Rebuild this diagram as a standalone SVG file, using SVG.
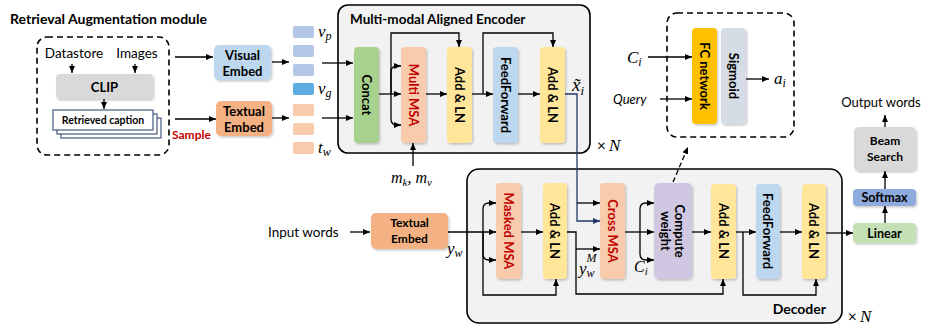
<svg xmlns="http://www.w3.org/2000/svg" width="927" height="329" viewBox="0 0 927 329">
<style>
.t{font-family:Lato,"Liberation Sans",sans-serif;fill:#000}
.b{font-weight:bold}
.m{font-family:"Liberation Serif","DejaVu Serif",serif;font-style:italic;fill:#000}
.ln{fill:none;stroke:#000;stroke-width:1.3}
.nv{fill:none;stroke:#203864;stroke-width:1.3}
.cont{fill:#f2f2f2;stroke:#000;stroke-width:1.6}
.dash{fill:none;stroke:#000;stroke-width:1.6;stroke-dasharray:6 4}
.blk{stroke:none;filter:url(#sh)}
.rt{font-family:Lato,"Liberation Sans",sans-serif;font-weight:bold;font-size:13px;text-anchor:middle;dominant-baseline:central;fill:#000}
.red{fill:#c00000}
</style>
<defs>
<filter id="sh" x="-30%" y="-30%" width="160%" height="160%">
<feDropShadow dx="1.2" dy="1.5" stdDeviation="1" flood-color="#000" flood-opacity="0.22"/>
</filter>
<marker id="a" markerUnits="userSpaceOnUse" markerWidth="7" markerHeight="7" refX="7" refY="3.5" orient="auto">
<path d="M0,0.5 L7,3.5 L0,6.5 z" fill="#000"/>
</marker>
<marker id="an" markerUnits="userSpaceOnUse" markerWidth="7" markerHeight="7" refX="7" refY="3.5" orient="auto">
<path d="M0,0.5 L7,3.5 L0,6.5 z" fill="#203864"/>
</marker>
</defs>

<g id="retrieval-module">
<text class="t b" x="10" y="24" font-size="14">Retrieval Augmentation module</text>
<rect class="dash" x="37" y="37" width="132" height="118" rx="10"/>
</g>
<g id="encoder">
<rect class="cont" x="338" y="5" width="252" height="148" rx="10"/>
<text class="t b" x="350" y="24" font-size="13.5">Multi-modal Aligned Encoder</text>
<text class="t" x="597" y="151" font-size="15">×</text><text class="m" x="609" y="151" font-size="17">N</text>
</g>
<g id="decoder">
<rect class="cont" x="467" y="169" width="375" height="154" rx="12"/>
<text class="t b" x="826" y="314" font-size="14" text-anchor="end">Decoder</text>
<text class="t" x="848" y="322" font-size="15">×</text><text class="m" x="860" y="322" font-size="17">N</text>
</g>
<g id="gate-module">
<rect class="dash" x="667" y="13" width="127" height="124" rx="10"/>
</g>

<g id="connectors">
<path class="ln" d="M72,64 V73" marker-end="url(#a)"/>
<path class="ln" d="M135,64 V73" marker-end="url(#a)"/>
<path class="ln" d="M104,99 V109" marker-end="url(#a)"/>
<path class="ln" d="M175,57 H213" marker-end="url(#a)"/>
<path class="ln" d="M175,119 H216" marker-end="url(#a)"/>
<path class="ln" d="M272,62 H289" marker-end="url(#a)"/>
<path class="ln" d="M272,118 H289" marker-end="url(#a)"/>
<path class="ln" d="M322,63 H353" marker-end="url(#a)"/>
<path class="ln" d="M322,118 H353" marker-end="url(#a)"/>
<path class="ln" d="M379,94 H401" marker-end="url(#a)"/>
<path class="ln" d="M391,94 V33 H459 V47" marker-end="url(#a)"/>
<path class="ln" d="M391,94 V72 Q391,66 397,66 H401" marker-end="url(#a)"/>
<path class="ln" d="M391,94 V119 Q391,125 397,125 H401" marker-end="url(#a)"/>
<path class="ln" d="M426,94 H447" marker-end="url(#a)"/>
<path class="ln" d="M472,94 H493" marker-end="url(#a)"/>
<path class="ln" d="M483,94 V33 H553 V47" marker-end="url(#a)"/>
<path class="ln" d="M518,94 H540" marker-end="url(#a)"/>
<path class="ln" d="M413,166 V143" marker-end="url(#a)"/>
<path class="nv" d="M565,94 H577 V221 H600" marker-end="url(#an)"/>
<path class="ln" d="M577,203 H600" marker-end="url(#a)"/>
<path class="ln" d="M648,57 H692" marker-end="url(#a)"/>
<path class="ln" d="M660,99 H692" marker-end="url(#a)"/>
<path class="ln" d="M746,79 H769" marker-end="url(#a)"/>
<path class="ln" d="M673,182 L688,147" stroke-dasharray="5 3" marker-end="url(#a)"/>
<path class="ln" d="M350,232 H370" marker-end="url(#a)"/>
<path class="ln" d="M448,232 H496" marker-end="url(#a)"/>
<path class="ln" d="M483,232 V209 Q483,203 489,203 H496" marker-end="url(#a)"/>
<path class="ln" d="M483,232 V254 Q483,260 489,260 H496" marker-end="url(#a)"/>
<path class="ln" d="M483,232 V295 H556 V279" marker-end="url(#a)"/>
<path class="ln" d="M521,232 H543" marker-end="url(#a)"/>
<path class="ln" d="M567,232 H576 V294 H723 V279" marker-end="url(#a)"/>
<path class="ln" d="M576,249 H600" marker-end="url(#a)"/>
<path class="ln" d="M625,232 H654" marker-end="url(#a)"/>
<path class="ln" d="M640,232 V209 Q640,203 646,203 H654" marker-end="url(#a)"/>
<path class="ln" d="M640,232 V254 Q640,260 646,260 H654" marker-end="url(#a)"/>
<path class="ln" d="M692,232 H711" marker-end="url(#a)"/>
<path class="ln" d="M736,232 H756" marker-end="url(#a)"/>
<path class="ln" d="M743,232 V295 H816 V279" marker-end="url(#a)"/>
<path class="ln" d="M780,232 H802" marker-end="url(#a)"/>
<path class="ln" d="M826,233 H853" marker-end="url(#a)"/>
<path class="ln" d="M885,223 V206" marker-end="url(#a)"/>
<path class="ln" d="M885,189 V171" marker-end="url(#a)"/>
<path class="ln" d="M885,127 V115" marker-end="url(#a)"/>
</g>

<g id="datastore"><text class="t" x="74" y="58" font-size="13.5" text-anchor="middle">Datastore</text></g>
<g id="images"><text class="t" x="137" y="58" font-size="13.5" text-anchor="middle">Images</text></g>
<g id="clip">
<rect class="blk" x="56" y="74" width="97" height="25" rx="4" fill="#d9d9d9"/>
<text class="t b" x="104.5" y="91.5" font-size="13" text-anchor="middle">CLIP</text>
</g>
<g id="retrieved-caption">
<rect x="61" y="118" width="100" height="20" fill="#fff" stroke="#203864" stroke-width="1"/>
<rect x="57" y="114" width="100" height="20" fill="#fff" stroke="#203864" stroke-width="1"/>
<rect x="53" y="110" width="100" height="20" fill="#fff" stroke="#203864" stroke-width="1"/>
<text class="t b" x="103" y="124" font-size="10.5" text-anchor="middle">Retrieved caption</text>
</g>
<g id="sample"><text class="t b" x="172" y="139" font-size="12" style="fill:#c00000">Sample</text></g>

<g id="visual-embed">
<rect class="blk" x="214" y="45" width="57" height="35" rx="5" fill="#bdd7ee"/>
<text class="t b" x="242.5" y="59.5" font-size="13" text-anchor="middle">Visual</text>
<text class="t b" x="242.5" y="75.5" font-size="13" text-anchor="middle">Embed</text>
</g>
<g id="textual-embed-enc">
<rect class="blk" x="216" y="101" width="56" height="35" rx="5" fill="#f4b183"/>
<text class="t b" x="244" y="115.5" font-size="13" text-anchor="middle">Textual</text>
<text class="t b" x="244" y="131.5" font-size="13" text-anchor="middle">Embed</text>
</g>
<g id="visual-tokens">
<rect x="293" y="26" width="21" height="12" rx="2" fill="#b4c7e7"/>
<rect x="293" y="45" width="21" height="12" rx="2" fill="#b4c7e7"/>
<rect x="293" y="64" width="21" height="12" rx="2" fill="#b4c7e7"/>
<rect x="293" y="83" width="21" height="12" rx="2" fill="#5dade2"/>
<text class="m" x="318" y="37" font-size="17">v<tspan font-size="12" dy="3">p</tspan></text>
<text class="m" x="318" y="94" font-size="17">v<tspan font-size="12" dy="3">g</tspan></text>
</g>
<g id="text-tokens">
<rect x="293" y="104" width="21" height="12" rx="2" fill="#f8cbad"/>
<rect x="293" y="123" width="21" height="12" rx="2" fill="#f8cbad"/>
<rect x="293" y="142" width="21" height="12" rx="2" fill="#f8cbad"/>
<text class="m" x="318" y="153" font-size="17">t<tspan font-size="12" dy="3">w</tspan></text>
</g>

<g id="concat">
<rect class="blk" x="354" y="47" width="25" height="96" rx="4" fill="#a9d18e"/>
<text class="rt" transform="translate(366.5,95) rotate(90)">Concat</text>
</g>
<g id="multi-msa">
<rect class="blk" x="401" y="47" width="25" height="96" rx="4" fill="#f8cbad"/>
<text class="rt red" transform="translate(413.5,95) rotate(90)">Multi MSA</text>
</g>
<g id="enc-addln1">
<rect class="blk" x="447" y="47" width="25" height="96" rx="4" fill="#ffe699"/>
<text class="rt" transform="translate(459.5,95) rotate(90)">Add &amp; LN</text>
</g>
<g id="enc-ff">
<rect class="blk" x="493" y="47" width="25" height="96" rx="4" fill="#bdd7ee"/>
<text class="rt" transform="translate(505.5,95) rotate(90)">FeedForward</text>
</g>
<g id="enc-addln2">
<rect class="blk" x="540" y="47" width="25" height="96" rx="4" fill="#ffe699"/>
<text class="rt" transform="translate(552.5,95) rotate(90)">Add &amp; LN</text>
</g>
<g id="x-label"><text class="m" x="572" y="91" font-size="19">x̃<tspan font-size="13" dy="4">i</tspan></text></g>
<g id="mkmv"><text class="m" x="391" y="183" font-size="16">m<tspan font-size="11" dy="3">k</tspan><tspan dy="-3">, m</tspan><tspan font-size="11" dy="3">v</tspan></text></g>

<g id="ci-in"><text class="m" x="627" y="63" font-size="17">C<tspan font-size="12" dy="3">i</tspan></text></g>
<g id="query"><text class="t" x="613" y="104" font-size="13" font-style="italic">Query</text></g>
<g id="fc-network">
<rect class="blk" x="692" y="28" width="25" height="96" rx="4" fill="#ffc000"/>
<text class="rt" transform="translate(704.5,76) rotate(90)">FC network</text>
</g>
<g id="sigmoid">
<rect class="blk" x="721" y="28" width="25" height="96" rx="4" fill="#d6dce5"/>
<text class="rt" transform="translate(733.5,76) rotate(90)">Sigmoid</text>
</g>
<g id="ai"><text class="m" x="774" y="84" font-size="17">a<tspan font-size="12" dy="3">i</tspan></text></g>

<g id="input-words"><text class="t" x="268" y="237" font-size="13.5">Input words</text></g>
<g id="textual-embed-dec">
<rect class="blk" x="371" y="213" width="77" height="36" rx="5" fill="#f4b183"/>
<text class="t b" x="409.5" y="227" font-size="12" text-anchor="middle">Textual</text>
<text class="t b" x="409.5" y="243" font-size="12" text-anchor="middle">Embed</text>
</g>
<g id="yw"><text class="m" x="447" y="254" font-size="17">y<tspan font-size="12" dy="3">w</tspan></text></g>
<g id="masked-msa">
<rect class="blk" x="496" y="183" width="25" height="96" rx="4" fill="#f8cbad"/>
<text class="rt red" transform="translate(508.5,231) rotate(90)">Masked MSA</text>
</g>
<g id="dec-addln1">
<rect class="blk" x="543" y="183" width="24" height="96" rx="4" fill="#ffe699"/>
<text class="rt" transform="translate(555,231) rotate(90)">Add &amp; LN</text>
</g>
<g id="ywm"><text class="m" x="579" y="274" font-size="17">y<tspan font-size="12" dy="3">w</tspan><tspan font-size="12" dx="-8" dy="-15">M</tspan></text></g>
<g id="cross-msa">
<rect class="blk" x="600" y="183" width="25" height="96" rx="4" fill="#f8cbad"/>
<text class="rt red" transform="translate(612.5,231) rotate(90)">Cross MSA</text>
</g>
<g id="ci-dec"><text class="m" x="634" y="272" font-size="16">C<tspan font-size="11" dy="3">i</tspan></text></g>
<g id="compute-weight">
<rect class="blk" x="654" y="183" width="38" height="96" rx="5" fill="#d0c8e2"/>
<text class="rt" transform="translate(673,231) rotate(90)"><tspan x="0" y="-7">Compute</tspan><tspan x="0" y="7">weight</tspan></text>
</g>
<g id="dec-addln2">
<rect class="blk" x="711" y="184" width="25" height="95" rx="4" fill="#ffe699"/>
<text class="rt" transform="translate(723.5,231) rotate(90)">Add &amp; LN</text>
</g>
<g id="dec-ff">
<rect class="blk" x="756" y="184" width="24" height="95" rx="4" fill="#bdd7ee"/>
<text class="rt" transform="translate(768,231) rotate(90)">FeedForward</text>
</g>
<g id="dec-addln3">
<rect class="blk" x="802" y="184" width="24" height="95" rx="4" fill="#ffe699"/>
<text class="rt" transform="translate(814,231) rotate(90)">Add &amp; LN</text>
</g>

<g id="linear">
<rect class="blk" x="853" y="223" width="63" height="20" rx="4" fill="#c5e0b4"/>
<text class="t b" x="884.5" y="237.5" font-size="12.5" text-anchor="middle">Linear</text>
</g>
<g id="softmax">
<rect class="blk" x="853" y="189" width="63" height="17" rx="4" fill="#8faadc"/>
<text class="t b" x="884.5" y="202" font-size="12.5" text-anchor="middle">Softmax</text>
</g>
<g id="beam-search">
<rect class="blk" x="854" y="127" width="62" height="44" rx="5" fill="#d9d9d9"/>
<text class="t b" x="885" y="145" font-size="12" text-anchor="middle">Beam</text>
<text class="t b" x="885" y="161" font-size="12" text-anchor="middle">Search</text>
</g>
<g id="output-words"><text class="t" x="881" y="107" font-size="13" text-anchor="middle">Output words</text></g>
</svg>
